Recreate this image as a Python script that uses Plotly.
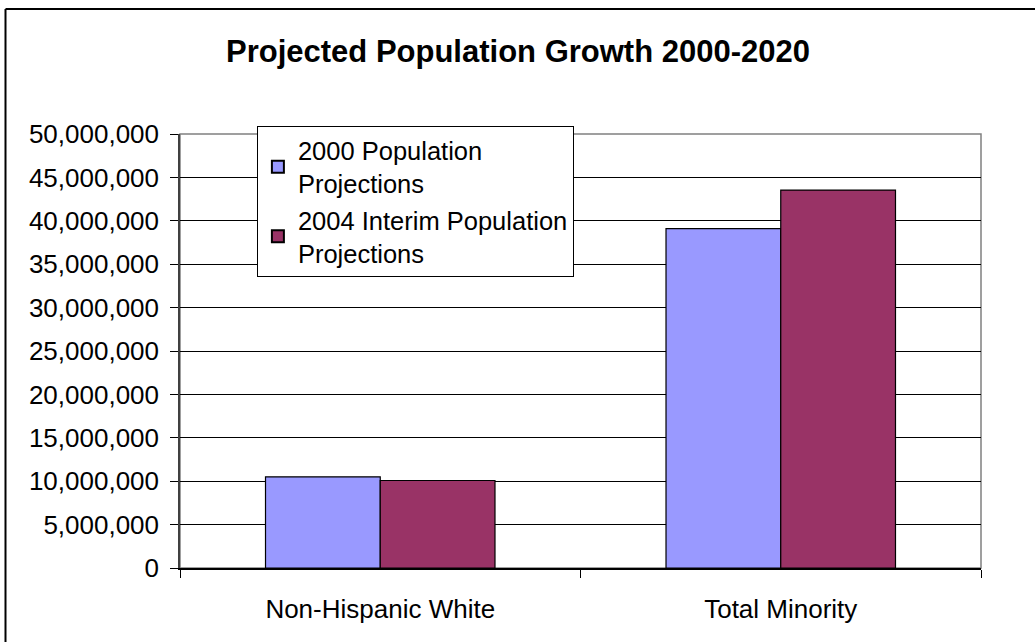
import plotly.graph_objects as go

categories = ["Non-Hispanic White", "Total Minority"]
series_names = ["2000 Population<br>Projections", "2004 Interim Population<br>Projections"]
pop_2000 = [10500000, 39100000]
pop_2004 = [10080000, 43540000]
colors = ["#9999FF", "#993366"]

FONT = "Liberation Sans, Arial, sans-serif"

fig = go.Figure()
for name, vals, col in zip(series_names, [pop_2000, pop_2004], colors):
    fig.add_trace(go.Bar(
        x=categories, y=vals, name=name,
        marker=dict(color=col, line=dict(color="black", width=1.2)),
    ))

fig.update_layout(
    width=1036, height=643,
    margin=dict(l=180, r=55, t=134, b=75),
    paper_bgcolor="white", plot_bgcolor="white",
    font=dict(family=FONT, size=26, color="black"),
    barmode="group", bargap=0.427, bargroupgap=0,
    title=dict(text="<b>Projected Population Growth 2000-2020</b>",
               x=0.5, xanchor="center", y=0.921, yanchor="middle",
               font=dict(family=FONT, size=31, color="black")),
    legend=dict(x=0.096, y=1.018, xanchor="left", yanchor="top",
                bgcolor="white", bordercolor="black", borderwidth=1,
                font=dict(family=FONT, size=25.5, color="black"),
                itemsizing="constant", tracegroupgap=0, itemwidth=30),
    showlegend=True,
)
fig.update_yaxes(range=[0, 50000000], dtick=5000000, tickformat=",",
                 showgrid=True, gridcolor="black", gridwidth=1,
                 ticks="outside", ticklen=8, tickcolor="black",
                 showline=True, linecolor="#404040", linewidth=1.5,
                 zeroline=False, ticklabelstandoff=6)
fig.update_xaxes(ticks="outside", tickson="boundaries", ticklen=8, tickcolor="black",
                 showline=True, linecolor="black", linewidth=1.5,
                 showgrid=False, ticklabelstandoff=17)

# plot area border (gray)
fig.add_shape(type="rect", xref="paper", yref="paper", x0=0, y0=0, x1=1, y1=1,
              line=dict(color="#808080", width=1.5), layer="below")
# outer chart border: only top and left edges visible in the frame
left_x = (5.5 - 180) / 801
top_y = (568 - 9) / 434
right_x = (1035 - 180) / 801
bottom_y = -74 / 434
fig.add_shape(type="line", xref="paper", yref="paper",
              x0=left_x, y0=top_y, x1=right_x, y1=top_y,
              line=dict(color="black", width=2), layer="below")
fig.add_shape(type="line", xref="paper", yref="paper",
              x0=left_x, y0=top_y, x1=left_x, y1=bottom_y,
              line=dict(color="black", width=2), layer="below")

fig.write_html("out.html")
